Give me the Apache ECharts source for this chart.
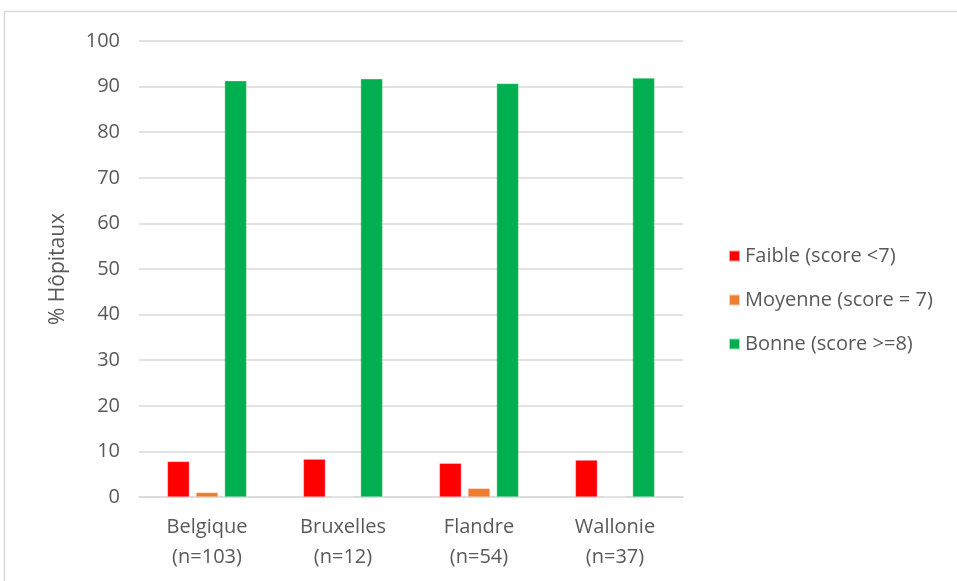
<!DOCTYPE html>
<html>
<head>
<meta charset="utf-8">
<style>
  html, body { margin: 0; padding: 0; background: #fff; }
  #chart { width: 957px; height: 581px; }
</style>
<script src="https://cdn.jsdelivr.net/npm/echarts@6/dist/echarts.min.js"></script>
</head>
<body>
<div id="chart"></div>
<script>
// données
const categories = ['Belgique\n(n=103)', 'Bruxelles\n(n=12)', 'Flandre\n(n=54)', 'Wallonie\n(n=37)'];
const seriesNames = ['Faible (score <7)', 'Moyenne (score = 7)', 'Bonne (score >=8)'];
const faible = [7.8, 8.3, 7.4, 8.1];
const moyenne = [1.0, 0, 1.9, 0];
const bonne = [91.3, 91.7, 90.7, 91.9];
const colors = ['#ff0000', '#ed7d31', '#00b050'];

const textColor = '#595959';
const font = 'Open Sans';

let myChart = echarts.init(document.getElementById('chart'));

function bar(name, data) {
    return {
        name: name,
        type: 'bar',
        data: data,
        barWidth: 22,
        barGap: '30%',
        itemStyle: { borderColor: 'rgba(255,255,255,0.6)', borderWidth: 0.5 }
    };
}

myChart.setOption({
    animation: false,
    backgroundColor: '#fff',
    color: colors,
    graphic: [{
        type: 'rect',
        shape: { x: 4.5, y: 11.5, width: 960, height: 580 },
        style: { fill: 'none', stroke: '#d9d9d9', lineWidth: 1.5 },
        silent: true
    }],
    grid: { left: 139, right: 274, top: 41, bottom: 84 },
    legend: {
        orient: 'vertical',
        left: 723,
        top: 241,
        itemWidth: 11,
        itemHeight: 11,
        itemGap: 24,
        icon: 'rect',
        textStyle: { color: textColor, fontSize: 20, fontFamily: font },
        data: seriesNames
    },
    xAxis: {
        type: 'category',
        data: categories,
        axisLine: { lineStyle: { color: '#d9d9d9', width: 1.5 } },
        axisTick: { show: false },
        axisLabel: { color: textColor, fontSize: 20, fontFamily: font, lineHeight: 30, margin: 15 }
    },
    yAxis: {
        type: 'value',
        min: 0,
        max: 100,
        interval: 10,
        name: '% Hôpitaux',
        nameLocation: 'middle',
        nameGap: 70,
        nameTextStyle: { color: textColor, fontSize: 21, fontFamily: font },
        axisLine: { show: false },
        axisTick: { show: false },
        axisLabel: { color: textColor, fontSize: 20, fontFamily: font, margin: 19 },
        splitLine: { lineStyle: { color: '#d9d9d9', width: 1.5 } }
    },
    series: [
        bar(seriesNames[0], faible),
        bar(seriesNames[1], moyenne),
        bar(seriesNames[2], bonne)
    ]
});
</script>
</body>
</html>
